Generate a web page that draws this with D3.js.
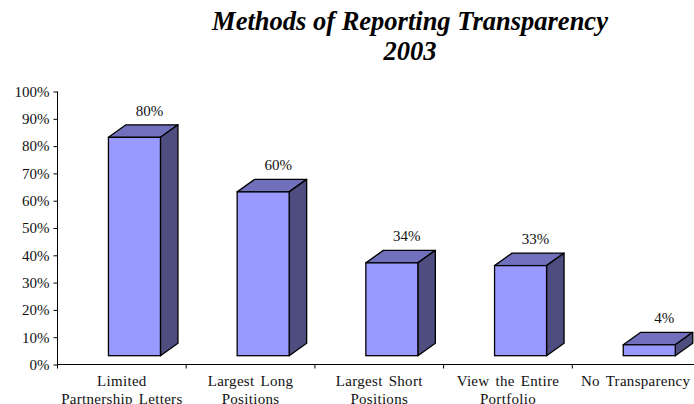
<!DOCTYPE html>
<html><head><meta charset="utf-8">
<script src="https://cdnjs.cloudflare.com/ajax/libs/d3/7.8.5/d3.min.js"></script>
<style>
html,body{margin:0;padding:0;background:#fff;overflow:hidden}
svg{display:block}
text{font-family:"Liberation Serif","Times New Roman",serif;fill:#111}
</style></head><body>
<script>
const categories = [["Limited","Partnership Letters"],["Largest Long","Positions"],["Largest Short","Positions"],["View the Entire","Portfolio"],["No Transparency"]];
const categoryKeys = ["Limited Partnership Letters","Largest Long Positions","Largest Short Positions","View the Entire Portfolio","No Transparency"];
const values = [80,60,34,33,4];
const yTicks = [0,10,20,30,40,50,60,70,80,90,100];
const titleLines = ["Methods of Reporting Transparency","2003"];

const W=694,H=404;
const svg=d3.select("body").append("svg").attr("width",W).attr("height",H);
const x=d3.scaleBand().domain(categoryKeys).range([57.5,701]).paddingInner(0).paddingOuter(0);
const y=d3.scaleLinear().domain([0,100]).range([364.5,91.5]);
const floor=8.8, dx=17.5, dy=12.5, barW=52, barShift=12.6, sw=1.3;

svg.selectAll(".title").data(titleLines).join("text")
 .attr("x",410).attr("y",(d,i)=>30+i*30)
 .attr("text-anchor","middle").style("font-size","26.5px").style("font-weight","bold").style("font-style","italic").style("fill","#000")
 .text(d=>d);

const yAxis=d3.axisLeft(y).tickValues(yTicks).tickFormat(d=>d+"%").tickSize(4).tickPadding(4);
const gy=svg.append("g").attr("transform","translate(57.5,0)").call(yAxis);
gy.selectAll("text").style("font-size","15px");
gy.select(".domain").attr("d",`M0,${y(100)}V${y(0)}`);

const xAxis=d3.axisBottom(x).tickSize(0).tickFormat("");
const gx=svg.append("g").attr("transform",`translate(0,${y(0)})`).call(xAxis);
gx.select(".domain").attr("d",`M57.5,0H701`);
gx.selectAll(".tick").remove();
gx.selectAll(".sep").data(d3.range(categoryKeys.length+1)).join("line").attr("class","sep")
 .attr("x1",i=>i<categoryKeys.length?x(categoryKeys[i]):x.range()[1])
 .attr("x2",i=>i<categoryKeys.length?x(categoryKeys[i]):x.range()[1])
 .attr("y1",0).attr("y2",4).attr("stroke","#000");

const bars=svg.selectAll(".bar").data(values).join("g").attr("class","bar");
const left=(i)=>x(categoryKeys[i])+(x.bandwidth()-barW)/2+barShift;
const path=pts=>d3.line()(pts)+"Z";
bars.append("path").attr("fill","#7070BC").attr("stroke","#000").attr("stroke-width",sw).attr("stroke-linejoin","round")
 .attr("d",(v,i)=>{const l=left(i),t=y(v)-floor;return path([[l,t],[l+barW,t],[l+barW+dx,t-dy],[l+dx,t-dy]]);});
bars.append("path").attr("fill","#4D4D7F").attr("stroke","#000").attr("stroke-width",sw).attr("stroke-linejoin","round")
 .attr("d",(v,i)=>{const l=left(i)+barW,t=y(v)-floor,b=y(0)-floor;return path([[l,t],[l+dx,t-dy],[l+dx,b-dy],[l,b]]);});
bars.append("rect").attr("fill","#9999FF").attr("stroke","#000").attr("stroke-width",sw)
 .attr("x",(v,i)=>left(i)).attr("y",v=>y(v)-floor).attr("width",barW).attr("height",v=>y(0)-y(v));
bars.append("text").attr("text-anchor","middle").style("font-size","15px")
 .attr("x",(v,i)=>left(i)+barW/2+15).attr("y",v=>y(v)-floor-dy-9)
 .text(v=>v+"%");

svg.selectAll(".cat").data(categories).join("text").attr("class","cat")
 .attr("text-anchor","middle").style("font-size","15px").style("letter-spacing","0.3px").style("word-spacing","2px")
 .each(function(lines,i){
   d3.select(this).selectAll("tspan").data(lines).join("tspan")
    .attr("x",x(categoryKeys[i])+x.bandwidth()/2-(i==4?1:0)).attr("y",(d,j)=>386+j*18).text(d=>d);
 });
</script></body></html>
